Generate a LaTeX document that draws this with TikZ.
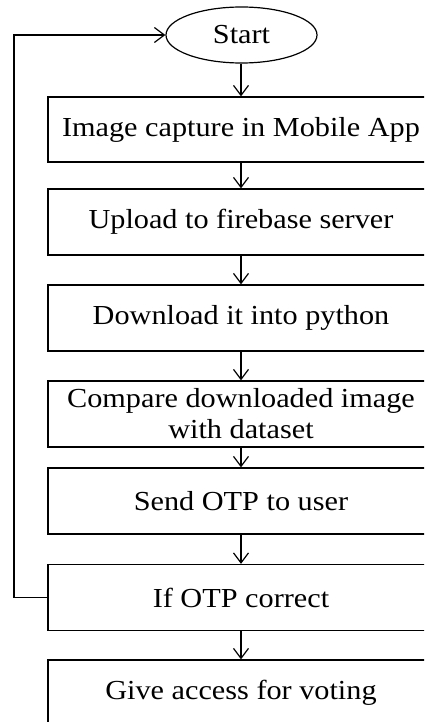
\documentclass[tikz,border=0pt]{standalone}
\usepackage{fontspec}
\setmainfont{Liberation Serif}[FakeStretch=1.1]
\usetikzlibrary{arrows.meta,shapes.geometric}
\begin{document}
\begin{tikzpicture}[x=1pt,y=-1pt,
  line width=1.2pt,
  every node/.style={font=\fontsize{27.5}{31}\selectfont, inner sep=0pt},
  procbox/.style={draw, rectangle, minimum width=386pt, minimum height=66pt, align=center},
  termbox/.style={draw, ellipse, minimum width=151pt, minimum height=56pt},
  flow/.style={-{Straight Barb[length=10pt,width=15pt,line width=1.2pt]}}]
\useasboundingbox (0,0) rectangle (424,722);
\clip (0,0) rectangle (424,722);
\fill[white] (0,0) rectangle (424,722);
\node[termbox] (start) at (241.5,35) {Start};
\node[procbox, minimum height=65pt] (b1) at (241,129.5) {Image capture in Mobile App};
\node[procbox] (b2) at (241,222) {Upload to firebase server};
\node[procbox] (b3) at (241,318) {Download it into python};
\node[procbox] (b4) at (241,414) {Compare downloaded image\\with dataset};
\node[procbox] (b5) at (241,501) {Send OTP to user};
\node[procbox] (b6) at (241,597.5) {If OTP correct};
\node[procbox] (b7) at (241,693) {Give access for voting};
\draw[flow] (start.south -| b1.north) -- (b1.north);
\draw[flow] (b1) -- (b2);
\draw[flow] (b2) -- (b3);
\draw[flow] (b3) -- (b4);
\draw[flow] (b4) -- (b5);
\draw[flow] (b5) -- (b6);
\draw[flow] (b6) -- (b7);
\coordinate (lb) at (14,597.5);
\coordinate (lt) at (14,35);
\draw[flow] (b6.west) -- (lb) -- (lt) -- (start.west);
\end{tikzpicture}
\end{document}
